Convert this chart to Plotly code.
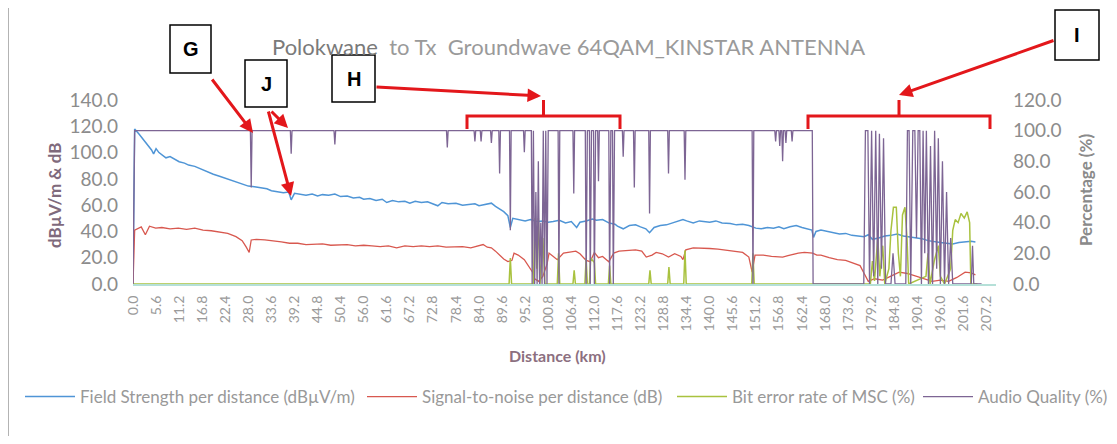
import plotly.graph_objects as go

# ---- data (km, value) ----
FS_KM = [0, 0.4, 1.5, 2.5, 3.5, 4.5, 5.0, 5.6, 6.3, 7.2, 8.0, 9.0, 10.0, 11.2, 12.5, 13.5, 15.0, 16.8,
         18.0, 19.5, 21.0, 22.4, 24.0, 25.5, 27.0, 28.0, 29.5, 31.0, 32.5, 33.6, 35.0, 36.5, 37.8, 38.4,
         39.2, 40.5, 42.0, 43.5, 44.8, 46.0, 47.5, 49.0, 50.4, 52.0, 53.5, 55.0, 56.0, 57.5, 59.0, 60.5,
         61.6, 63.0, 64.5, 66.0, 67.2, 68.5, 70.0, 71.5, 72.8, 74.0, 75.0, 76.5, 78.4, 80.0, 81.5, 83.0,
         84.0, 85.5, 87.0, 88.0, 89.0, 90.0, 91.0, 91.6, 92.2, 93.5, 95.2, 96.5, 98.0, 99.5, 100.8, 102.0,
         103.5, 105.0, 106.4, 107.7, 108.5, 110.0, 111.5, 112.5, 114.0, 115.5, 117.0, 117.6, 119.0, 120.5,
         122.0, 123.2, 124.5, 125.4, 126.5, 128.0, 129.5, 131.0, 132.5, 133.5, 134.4, 136.0, 137.5, 139.0,
         140.0, 141.5, 143.0, 145.0, 146.5, 148.0, 149.5, 151.2, 152.5, 154.0, 155.5, 156.8, 158.0, 159.5,
         161.0, 162.4, 164.0, 164.8, 165.2, 165.8, 167.0, 168.5, 170.0, 171.5, 173.0, 174.5, 176.0, 177.5,
         178.5, 179.5, 181.0, 182.5, 184.0, 185.5, 187.0, 188.5, 190.0, 191.5, 193.0, 194.5, 196.0, 197.5,
         199.0, 200.5, 202.0, 203.5, 204.5]
FS_VAL = [0, 118, 114, 110, 106, 102, 99, 103, 100, 98, 96, 97, 95, 93, 92, 90.5, 89.5, 87,
          85, 83.5, 82, 80.5, 79, 77, 75.5, 74.5, 74, 73, 72.5, 71, 70.5, 69.5, 70, 64,
          69, 68.5, 67.5, 68.5, 67, 68, 67.5, 68.5, 66.5, 67, 65.5, 66, 64.5, 65, 63.5, 64.5,
          62, 63.5, 62.5, 63, 61.5, 63, 62, 62.5, 61, 59.5, 62, 61, 61.5, 60, 60.5, 61,
          59.5, 60.5, 61.5, 59, 57, 55, 52, 43, 50, 49, 48, 49, 47.5, 48, 47, 47.5,
          48.5, 46.5, 47.5, 43, 47, 48, 49.5, 48.5, 49, 46.5, 45.5, 44, 42, 44.5,
          45, 43.5, 42, 39, 43, 44.5, 45, 46.5, 48, 49, 48, 46.5, 48, 47.5,
          47, 48, 46.5, 46, 45, 45.5, 44.5, 42.5, 42, 43, 42.5, 43.5, 42, 43.5,
          44.5, 43, 41.5, 41, 35.5, 40, 41, 40, 39, 38, 38.5, 37, 36.5, 36,
          37.5, 34, 35, 36.5, 37, 38, 36.5, 36, 35, 34.5, 33, 32, 31.5, 31,
          30.5, 31.5, 32, 32.5, 32]

SNR_KM = [0, 0.4, 2.0, 3.0, 4.0, 5.5, 7.0, 9.0, 11.0, 13.0, 15.0, 17.0, 19.0, 21.0, 23.0, 25.0, 26.5,
          27.5, 28.2, 28.7, 30.0, 32.0, 34.0, 36.0, 38.0, 40.0, 42.0, 44.0, 46.0, 48.0, 50.0, 52.0,
          54.0, 56.0, 58.0, 60.0, 62.0, 64.0, 66.0, 68.0, 70.0, 72.0, 74.0, 76.0, 78.0, 80.0, 82.0,
          84.0, 85.0, 86.0, 87.0, 88.0, 89.0, 90.0, 91.0, 92.0, 92.5, 93.5, 95.0, 96.0, 97.0, 97.5,
          98.5, 99.5, 100.5, 101.0, 102.0, 103.0, 104.5, 106.0, 107.5, 108.5, 110.0, 111.0, 112.0,
          113.0, 114.0, 115.5, 116.7, 118.0, 120.0, 122.0, 123.5, 124.6, 126.0, 127.0, 128.5, 130.0,
          131.5, 133.0, 133.5, 134.2, 136.0, 138.0, 140.0, 142.0, 144.0, 146.0, 148.0, 149.5, 150.3,
          151.0, 153.0, 155.0, 157.7, 159.0, 161.5, 163.0, 165.0, 166.0, 167.0, 169.0, 171.0, 173.0,
          175.0, 176.5, 177.5, 178.5, 180.0, 182.0, 184.0, 186.0, 188.0, 190.0, 192.0, 194.0, 196.0,
          198.0, 200.0, 202.0, 203.5, 204.5]
SNR_VAL = [0, 41, 43.5, 37.5, 44, 42.5, 43, 42, 42.5, 41.5, 42.5, 41, 40.5, 39.5, 38.5, 36, 33,
           28, 24, 33.5, 34, 33.5, 33, 32, 31, 31, 30, 30, 30.5, 29.5, 30, 30,
           29, 29.5, 29, 28.5, 29, 27.5, 29, 28.5, 29, 28.5, 29, 28, 28.3, 28.5, 27.5,
           29, 30, 28, 27.5, 25, 22, 19, 17, 18, 23.5, 22, 18.5, 14, 9, 4,
           2, 6, 15, 23.5, 21, 18.5, 23.5, 24.5, 25, 23, 18, 17, 24,
           20, 21, 17, 23.5, 25, 25.5, 26, 25, 20.5, 22, 24, 23, 20.5,
           23, 21, 18.5, 26, 27.5, 27.5, 27, 26.5, 25.5, 25, 24, 20.5, 9,
           22, 22, 21, 20.5, 21.5, 23.5, 24, 23.5, 22, 22, 20, 18.5, 18,
           16, 14, 8, 2, 4, 3, 6, 9, 8, 6, 4, 2, 3,
           2, 5, 9, 8.5, 7]

BER_KM = [0, 91.3, 91.6, 91.9, 97.2, 97.6, 98.0, 98.4, 98.8, 99.5, 100.0, 103.0, 103.3, 103.6, 106.8,
          107.1, 107.4, 109.7, 110.0, 110.3, 110.8, 111.1, 112.0, 112.3, 115.4, 115.7, 116.0, 125.2,
          125.5, 125.8, 129.8, 130.1, 130.4, 133.7, 134.0, 134.3, 150.2, 150.5, 150.8, 179.0, 179.5,
          180.0, 180.8, 181.3, 182.0, 182.5, 183.5, 184.0, 184.6, 185.3, 185.8, 186.3, 186.8, 187.4,
          187.9, 188.3, 192.5, 193.0, 193.5, 194.5, 195.5, 196.0, 197.0, 198.5, 199.0, 199.6, 200.3,
          201.0, 201.8, 202.5, 203.1, 203.4, 205.0]
BER_VAL = [0, 0, 17, 0, 0, 43, 10, 43, 0, 30, 0, 0, 20, 0, 0,
           9, 0, 0, 17, 0, 0, 17, 14, 0, 0, 12, 0, 0,
           9, 0, 0, 11, 0, 0, 22, 0, 0, 20, 0, 0, 15,
           2, 30, 5, 25, 0, 10, 35, 50, 50, 20, 5, 45, 50,
           30, 0, 5, 20, 0, 15, 25, 5, 0, 10, 35, 42, 40,
           46, 43, 47, 40, 0, 0]

AQ_KM = [0, 0.4, 28.5, 28.7, 28.9, 38.2, 38.4, 38.6, 48.8, 49.0, 49.2, 76.1, 76.3, 76.5, 82.8, 83.0,
         83.2, 84.3, 84.5, 84.7, 86.8, 87.0, 87.2, 88.8, 89.0, 89.2, 91.4, 91.6, 91.8, 94.8, 95.0,
         95.2, 96.7, 96.9, 97.2, 97.5, 97.8, 98.1, 98.4, 98.7, 99.0, 99.3, 99.6, 99.9, 100.2, 100.5,
         100.8, 103.2, 103.4, 103.6, 106.8, 107.0, 107.2, 109.8, 110.0, 110.3, 110.8, 111.0, 111.3,
         111.8, 112.0, 112.3, 112.8, 113.0, 113.2, 115.5, 115.7, 116.0, 116.4, 116.6, 116.9, 118.8,
         119.0, 119.2, 121.5, 121.7, 121.9, 125.2, 125.4, 125.6, 129.8, 130.0, 130.2, 133.8, 134.0,
         134.2, 150.3, 150.5, 150.7, 155.8, 156.0, 156.2, 156.8, 157.0, 157.2, 157.5, 157.7, 157.9,
         158.3, 158.5, 158.7, 159.8, 160.0, 160.2, 164.9, 165.1, 177.4, 177.8, 178.4, 178.8, 179.3,
         179.8, 180.3, 180.8, 181.2, 181.7, 182.2, 182.7, 184.0, 184.5, 185.0, 187.6, 188.0, 188.4,
         188.8, 189.3, 189.8, 190.2, 190.6, 191.0, 191.4, 191.8, 192.2, 192.6, 193.1, 193.6, 194.1,
         194.6, 195.1, 195.5, 196.0, 196.5, 197.0, 197.5, 198.0, 198.5, 199.0, 203.5, 203.8, 204.1,
         206.0]
AQ_VAL = [0, 100, 100, 63, 100, 100, 85, 100, 100, 91, 100, 100, 89, 100, 100, 93,
          100, 100, 93, 100, 100, 92, 100, 100, 72, 100, 100, 35, 100, 100, 86,
          100, 100, 0, 100, 0, 60, 0, 80, 0, 40, 0, 100, 0, 100, 0,
          100, 100, 0, 100, 100, 59, 100, 100, 0, 100, 100, 0, 100,
          100, 0, 100, 100, 67, 100, 100, 0, 100, 100, 0, 100, 100,
          83, 100, 100, 63, 100, 100, 46, 100, 100, 72, 100, 100, 68,
          100, 100, 0, 100, 100, 93, 100, 100, 90, 100, 100, 80, 100,
          100, 92, 100, 100, 93, 100, 100, 0, 0, 100, 100, 0, 100,
          5, 100, 0, 98, 10, 95, 0, 0, 20, 0, 0, 100, 100,
          0, 100, 100, 30, 100, 100, 0, 100, 20, 100, 0, 90, 0,
          100, 10, 95, 0, 80, 0, 60, 0, 30, 0, 0, 25, 0,
          0]

X_TICKS = [0.0, 5.6, 11.2, 16.8, 22.4, 28.0, 33.6, 39.2, 44.8, 50.4, 56.0, 61.6, 67.2, 72.8, 78.4,
           84.0, 89.6, 95.2, 100.8, 106.4, 112.0, 117.6, 123.2, 128.8, 134.4, 140.0, 145.6, 151.2,
           156.8, 162.4, 168.0, 173.6, 179.2, 184.8, 190.4, 196.0, 201.6, 207.2]

# ---- layout geometry, in window pixels of the reference ----
PAGE_OFF = 8                      # the page body margin shifts the figure by this much
W, H = 1117 - 2 * PAGE_OFF, 444 - 2 * PAGE_OFF
L_PX, R_PX, T_PX, B_PX = 133, 996, 100, 284
X_MAX = 209.5

BLUE = "#4F95D6"
RED = "#D8584F"
GREEN = "#A9C23F"
PURPLE = "#7D6594"
ARROW_RED = "#E3171B"
FONT = "Lato"


def px(x):
    return (x - L_PX) / (R_PX - L_PX)


def py(y):
    return (B_PX - y) / (B_PX - T_PX)


fig = go.Figure()

fig.add_trace(go.Scatter(x=FS_KM, y=FS_VAL, mode="lines", name="Field Strength per distance (dBµV/m)",
                         line=dict(color=BLUE, width=1.5), legend="legend"))
fig.add_trace(go.Scatter(x=SNR_KM, y=SNR_VAL, mode="lines", name="Signal-to-noise per distance (dB)",
                         line=dict(color=RED, width=1.3), legend="legend2"))
fig.add_trace(go.Scatter(x=BER_KM, y=BER_VAL, mode="lines", name="Bit error rate of MSC (%)",
                         line=dict(color=GREEN, width=1.5), yaxis="y2", legend="legend3"))
fig.add_trace(go.Scatter(x=AQ_KM, y=AQ_VAL, mode="lines", name="Audio Quality (%)",
                         line=dict(color=PURPLE, width=1.3), yaxis="y2", legend="legend4"))

# boxes with letters
for label, x0, y0, x1, y1 in [("G", 170, 25, 211, 73), ("J", 245, 60, 287, 107),
                              ("H", 332, 55, 375, 102), ("I", 1055, 10, 1099, 60)]:
    fig.add_shape(type="rect", xref="paper", yref="paper", x0=px(x0), x1=px(x1), y0=py(y1), y1=py(y0),
                  line=dict(color="black", width=1.5), fillcolor="white")
    fig.add_annotation(xref="paper", yref="paper", x=px((x0 + x1) / 2), y=py((y0 + y1) / 2),
                       xanchor="center", yanchor="middle", text=f"<b>{label}</b>",
                       showarrow=False, font=dict(family="Liberation Sans", size=20, color="black"))


def arrow(x0, y0, x1, y1):
    fig.add_annotation(xref="paper", yref="paper", x=px(x1), y=py(y1), ax=x0 - x1, ay=y0 - y1,
                       text="", showarrow=True, arrowhead=2, arrowsize=0.9, arrowwidth=3,
                       arrowcolor=ARROW_RED)


arrow(211, 78, 253, 133)
arrow(268, 110, 291, 196)
arrow(270, 110, 288, 128)
arrow(375, 87, 541, 96)
arrow(1055, 40, 899, 95)


def brace(xl, xr):
    xc = (xl + xr) / 2
    path = (f"M {px(xl)} {py(129)} L {px(xl)} {py(116)} L {px(xr)} {py(116)} L {px(xr)} {py(129)} "
            f"M {px(xc)} {py(116)} L {px(xc)} {py(100)}")
    fig.add_shape(type="path", xref="paper", yref="paper", path=path,
                  line=dict(color=ARROW_RED, width=3))


brace(467, 620)
brace(808, 990)

# chart border
fig.add_shape(type="rect", xref="paper", yref="paper", x0=px(8), x1=px(1130), y0=py(460), y1=py(7),
              line=dict(color="#9a9a9a", width=1.5), layer="below")

# title and axis titles
fig.add_annotation(xref="paper", yref="paper", x=px(568), y=py(46), xanchor="center", yanchor="middle",
                   text="<span style='color:#7a7a7a'>Polokwane</span>  to Tx  Groundwave 64QAM_KINSTAR ANTENNA",
                   showarrow=False, font=dict(family=FONT, size=22, color="#9a9a9a"))
fig.add_annotation(xref="paper", yref="paper", x=px(54), y=py(195), xanchor="center", yanchor="middle",
                   text="<b>dBµV/m &amp; dB</b>", textangle=-90, showarrow=False,
                   font=dict(family=FONT, size=17, color="#7f6a7c"))
fig.add_annotation(xref="paper", yref="paper", x=px(1085), y=py(190), xanchor="center", yanchor="middle",
                   text="<b>Percentage (%)</b>", textangle=-90, showarrow=False,
                   font=dict(family=FONT, size=17, color="#8a8a8a"))
fig.add_annotation(xref="paper", yref="paper", x=px(557), y=py(355), xanchor="center", yanchor="middle",
                   text="<b>Distance (km)</b>", showarrow=False,
                   font=dict(family=FONT, size=16, color="#8c6f80"))

leg_common = dict(orientation="h", xanchor="left", yanchor="middle", y=py(397),
                  font=dict(family=FONT, size=17, color="#999999"), bgcolor="rgba(0,0,0,0)",
                  itemwidth=50)

fig.update_layout(
    width=W, height=H,
    margin=dict(l=L_PX - PAGE_OFF, r=W - (R_PX - PAGE_OFF), t=T_PX - PAGE_OFF, b=H - (B_PX - PAGE_OFF),
                autoexpand=False),
    paper_bgcolor="white", plot_bgcolor="white",
    font=dict(family=FONT, color="#8a8a8a"),
    showlegend=True,
    legend=dict(leg_common, x=px(20)),
    legend2=dict(leg_common, x=px(362)),
    legend3=dict(leg_common, x=px(672)),
    legend4=dict(leg_common, x=px(918)),
    xaxis=dict(range=[0, X_MAX], tickvals=X_TICKS, ticktext=[f"{v:.1f}" for v in X_TICKS],
               tickangle=-90, showgrid=False, zeroline=False, showline=True, linecolor="#B5E0D8",
               linewidth=2, ticks="", tickfont=dict(family=FONT, size=14, color="#9a9a9a"),
               ticklabelstandoff=4),
    yaxis=dict(range=[0, 140], dtick=20, tickformat=".1f", showgrid=False, zeroline=False,
               showline=False, ticks="", tickfont=dict(family=FONT, size=19, color="#8c8c8c"),
               ticklabelstandoff=14),
    yaxis2=dict(range=[0, 120], dtick=20, tickformat=".1f", overlaying="y", side="right",
                showgrid=False, zeroline=False, showline=False, ticks="",
                tickfont=dict(family=FONT, size=19, color="#8c8c8c"), ticklabelstandoff=16),
)

fig.write_html("out.html")
